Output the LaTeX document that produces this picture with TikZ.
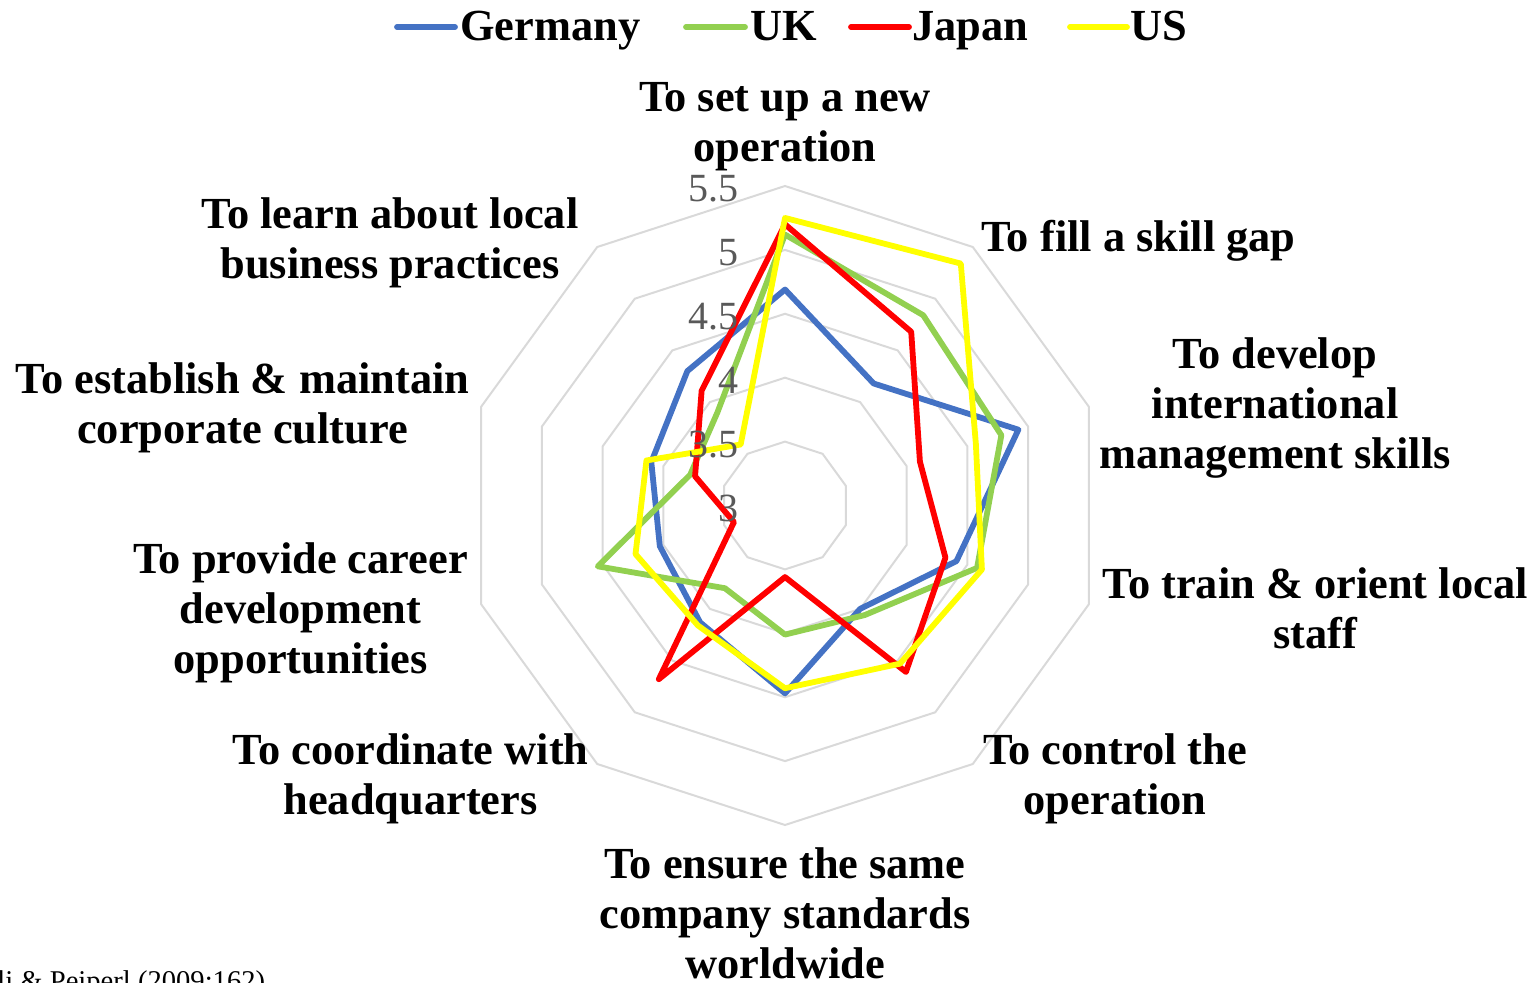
\documentclass[tikz,border=0pt]{standalone}
\usepackage{fontspec}
\setmainfont{Liberation Serif}
\definecolor{cGer}{HTML}{4472C4}
\definecolor{cUK}{HTML}{92D050}
\definecolor{cJap}{HTML}{FF0000}
\definecolor{cUS}{HTML}{FFFF00}
\definecolor{gridc}{HTML}{D9D9D9}
\definecolor{tickc}{HTML}{595959}
\newcommand\defseries[2]{%
  \foreach \v [count=\k from 0] in {#2} {%
    \coordinate (#1\k) at ({785+(\v-3)*127.8*cos(36*\k-90)},{505.5+(\v-3)*127.8*sin(36*\k-90)});
  }}
\tikzset{
  gridline/.style={draw=gridc, line width=1pt},
  series/.style={line width=2.9pt, line join=round, line cap=round},
  catlabel/.style={font=\fontsize{22.2}{25}\selectfont\bfseries, align=center, inner sep=0pt, anchor=north},
  ticklabel/.style={font=\fontsize{20}{22}\selectfont, text=tickc, inner sep=0pt, anchor=east},
  legline/.style={line width=2.9pt, line cap=round},
  legtext/.style={font=\fontsize{22.2}{25}\selectfont\bfseries, inner sep=0pt, anchor=base west},
}
\begin{document}
\begin{tikzpicture}[x=0.5pt,y=-0.5pt]
\useasboundingbox (0,0) rectangle (1534,983);
\clip (0,0) rectangle (1534,983);
% grid decagons
\foreach \r in {63.9,127.8,191.7,255.6,319.5} {
  \draw[gridline] ({785+\r*cos(-90)},{505.5+\r*sin(-90)})
    \foreach \k in {1,...,9} { -- ({785+\r*cos(36*\k-90)},{505.5+\r*sin(36*\k-90)}) } -- cycle;
}
% data
\defseries{G}{4.69,4.18,4.92,4.41,4.00,4.47,4.13,4.03,4.10,4.30}
\defseries{K}{5.12,4.84,4.78,4.58,4.06,4.01,3.80,4.54,3.78,3.90}
\defseries{J}{5.20,4.68,4.11,4.32,4.61,3.56,4.68,3.42,3.74,4.11}
\defseries{U}{5.25,5.34,4.57,4.62,4.53,4.43,4.16,4.23,4.14,3.59}
\draw[series, cGer] (G0)--(G1)--(G2)--(G3)--(G4)--(G5)--(G6)--(G7)--(G8)--(G9)--cycle;
\draw[series, cUK] (K0)--(K1)--(K2)--(K3)--(K4)--(K5)--(K6)--(K7)--(K8)--(K9)--cycle;
\draw[series, cJap] (J0)--(J1)--(J2)--(J3)--(J4)--(J5)--(J6)--(J7)--(J8)--(J9)--cycle;
\draw[series, cUS] (U0)--(U1)--(U2)--(U3)--(U4)--(U5)--(U6)--(U7)--(U8)--(U9)--cycle;
% tick labels
\node[ticklabel] (t30) at (739,508.5) {3};
\node[ticklabel] (t35) at (739,444.6) {3.5};
\node[ticklabel] (t40) at (739,380.7) {4};
\node[ticklabel] (t45) at (739,316.8) {4.5};
\node[ticklabel] (t50) at (739,252.9) {5};
\node[ticklabel] (t55) at (739,189) {5.5};
% category labels
\node[catlabel] (c0) at (785,82.2) {To set up a new\\operation};
\node[catlabel, anchor=base west] (c1) at (981,252) {To fill a skill gap};
\node[catlabel] (c2) at (1275,337.5) {To develop\\international\\management skills};
\node[catlabel] (c3) at (1315,567.5) {To train \& orient local\\staff};
\node[catlabel] (c4) at (1115,733.5) {To control the\\operation};
\node[catlabel] (c5) at (785,847.5) {To ensure the same\\company standards\\worldwide};
\node[catlabel] (c6) at (410.5,733.5) {To coordinate with\\headquarters};
\node[catlabel] (c7) at (300.5,542.5) {To provide career\\development\\opportunities};
\node[catlabel] (c8) at (242.5,362.5) {To establish \& maintain\\corporate culture};
\node[catlabel] (c9) at (390,197.5) {To learn about local\\business practices};
% legend
\coordinate (lg1a) at (397,27); \coordinate (lg1b) at (455,27);
\coordinate (lg2a) at (686,27); \coordinate (lg2b) at (745,27);
\coordinate (lg3a) at (851,27); \coordinate (lg3b) at (909,27);
\coordinate (lg4a) at (1070,27); \coordinate (lg4b) at (1127,27);
\draw[legline, cGer] (lg1a) -- (lg1b);
\draw[legline, cUK] (lg2a) -- (lg2b);
\draw[legline, cJap] (lg3a) -- (lg3b);
\draw[legline, cUS] (lg4a) -- (lg4b);
\node[legtext] (l1) at (460,41) {Germany};
\node[legtext] (l2) at (750,41) {UK};
\node[legtext] (l3) at (912,41) {Japan};
\node[legtext] (l4) at (1130,41) {US};
% source (cut off at the left and bottom edges)
\node[font=\fontsize{14.3}{16}\selectfont, inner sep=0pt, anchor=base west] (src) at (-3,990.5) {li \& Peiperl (2009:162)};
\end{tikzpicture}
\end{document}
